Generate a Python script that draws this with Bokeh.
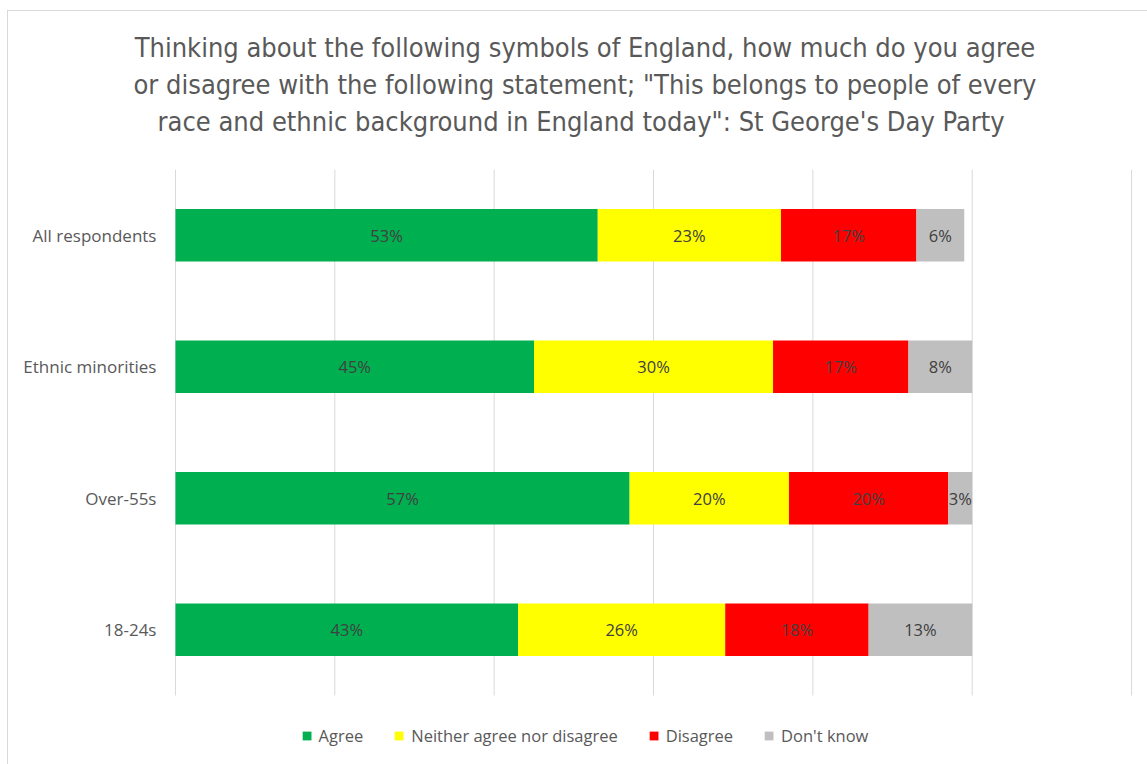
from bokeh.plotting import figure
from bokeh.models import Range1d, Title, Legend, LegendItem
from bokeh.core.properties import value
from bokeh.embed import file_html
from bokeh.resources import INLINE

groups = ["All respondents", "Ethnic minorities", "Over-55s", "18-24s"]
series = ["Agree", "Neither agree nor disagree", "Disagree", "Don't know"]
agree = [53, 45, 57, 43]
neither = [23, 30, 20, 26]
disagree = [17, 17, 20, 18]
dont_know = [6, 8, 3, 13]
colors = ["#00B050", "#FFFF00", "#FF0000", "#BFBFBF"]
x_ticks = [0, 20, 40, 60, 80, 100, 120]
title_lines = [
    "Thinking about the following symbols of England, how much do you agree",
    "or disagree with the following statement; \"This belongs to people of every",
    "race and ethnic background in England today\":  St George's Day Party",
]

FONT = "Open Sans"
TITLE_FONT = "DejaVu Sans Condensed"
TEXT_GREY = "#595959"
BORDER = "#D9D9D9"

n = len(groups)
ypos = [n - 1 - i for i in range(n)]  # first group on top

p = figure(
    width=1147, height=764,
    x_range=Range1d(-19.2, 122.0),
    y_range=Range1d(-1.0247, n - 0.5),
    output_backend="svg", toolbar_location=None,
    min_border_left=22, min_border_right=0,
    min_border_top=169, min_border_bottom=0,
)
p.outline_line_color = None
p.background_fill_color = "white"
p.border_fill_color = None
# light chart-area border (top and left edges), drawn behind the canvas
p.styles = {
    "background": (
        f"linear-gradient({BORDER},{BORDER}) 7px 10px / 1px 100% no-repeat, "
        f"linear-gradient({BORDER},{BORDER}) 7px 10px / 100% 1px no-repeat, white"
    )
}

# spacer between title block and plot area
p.add_layout(Title(text=" ", text_font_size="1px", standoff=28), "above")
for line in reversed(title_lines):
    p.add_layout(Title(text=line, align="center",
                       text_font=TITLE_FONT, text_font_size="27px",
                       text_font_style="normal", text_color=TEXT_GREY,
                       standoff=4), "above")

# vertical gridlines limited to the category band
p.segment(x0=x_ticks, x1=x_ticks, y0=[-0.5] * len(x_ticks),
          y1=[n - 0.5] * len(x_ticks), line_color=BORDER, line_width=1)

data = [agree, neither, disagree, dont_know]
left = [0] * n
renderers = []
label_x, label_y, label_t = [], [], []
for vals, col in zip(data, colors):
    right = [l + v for l, v in zip(left, vals)]
    r = p.hbar(y=ypos, left=left, right=right, height=0.4,
               fill_color=col, line_color=None)
    renderers.append(r)
    for yy, l, v in zip(ypos, left, vals):
        label_x.append(l + v / 2)
        label_y.append(yy)
        label_t.append(f"{v}%")
    left = right

p.text(x=label_x, y=label_y, text=label_t, text_align="center",
       text_baseline="middle", text_font=value(FONT),
       text_font_size="16.5px", text_color="#404040")

# category labels (left of the zero line)
p.text(x=[0] * n, y=ypos, text=groups, x_offset=-19,
       text_align="right", text_baseline="middle", text_font=value(FONT),
       text_font_size="17px", text_color=TEXT_GREY)

p.xaxis.visible = False
p.yaxis.visible = False
p.xgrid.grid_line_color = None
p.ygrid.grid_line_color = None

legend = Legend(
    items=[LegendItem(label=s, renderers=[r]) for s, r in zip(series, renderers)],
    orientation="horizontal", location="bottom_center",
    glyph_width=11, glyph_height=11, label_standoff=7, spacing=30,
    label_text_font=FONT, label_text_font_size="16.5px",
    label_text_color=TEXT_GREY, padding=0, margin=17,
    border_line_color=None, background_fill_alpha=0,
)
p.add_layout(legend, "center")

open("out.html", "w").write(file_html(p, INLINE))
